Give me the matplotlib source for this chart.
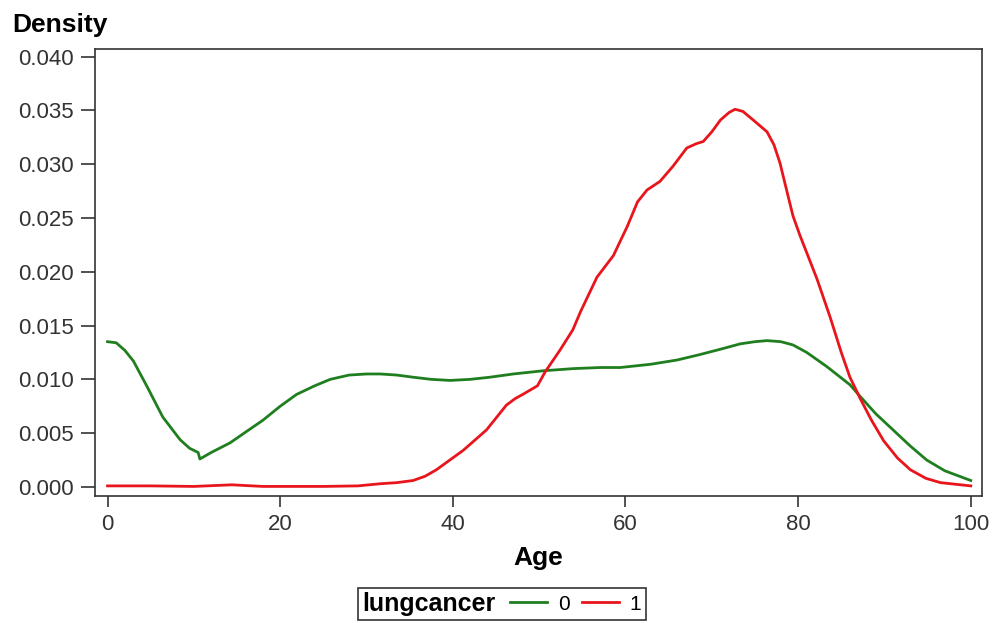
import matplotlib
matplotlib.use("Agg")
import matplotlib.pyplot as plt
from matplotlib.offsetbox import HPacker

plt.rcParams['font.family'] = ['Liberation Sans', 'DejaVu Sans']

# ---- data ----
age_0 = [0, 1, 2, 3, 4.6, 6.4, 8.4, 9.5, 10.5, 10.7, 12, 14.2, 16, 18, 20, 21.9, 24,
         25.8, 28, 30, 31.6, 33.5, 35.4, 37.5, 39.7, 42, 44.3, 47, 50.5, 54, 57.1,
         59.4, 62.9, 66, 68.6, 71, 73.3, 75, 76.4, 78, 79.4, 81, 83.3, 86, 87.2, 89,
         91, 93, 94.9, 97, 100]
dens_0 = [0.0135, 0.0134, 0.0127, 0.0117, 0.0093, 0.0065, 0.0044, 0.0036, 0.0032,
          0.0026, 0.0032, 0.0041, 0.0051, 0.0062, 0.0075, 0.0086, 0.0094, 0.0100,
          0.0104, 0.0105, 0.0105, 0.0104, 0.0102, 0.0100, 0.0099, 0.0100, 0.0102,
          0.0105, 0.0108, 0.0110, 0.0111, 0.0111, 0.0114, 0.0118, 0.0123, 0.0128,
          0.0133, 0.0135, 0.0136, 0.0135, 0.0132, 0.0125, 0.0112, 0.0095, 0.0084,
          0.0068, 0.0053, 0.0038, 0.0025, 0.0015, 0.0006]

age_1 = [0, 5, 10, 14.4, 18, 25, 29, 31.6, 33.5, 35.4, 36.8, 38.1, 41.2, 43.9, 46.2,
         47.2, 48.1, 49.8, 50.7, 52.4, 53.9, 54.8, 56.7, 58.6, 60.2, 61.4, 62.5, 64.0,
         65.5, 67.1, 68.2, 69.0, 70.0, 71.0, 72.0, 72.7, 73.6, 74.8, 76.4, 77.2, 77.9,
         78.6, 79.4, 80.2, 82.2, 83.7, 85.0, 86.0, 87.2, 88.5, 89.9, 91.5, 93.0, 94.8,
         96.5, 100]
dens_1 = [0.0001, 0.0001, 0.00005, 0.0002, 0.00005, 0.00005, 0.0001, 0.0003, 0.0004,
          0.0006, 0.0010, 0.0016, 0.0034, 0.0053, 0.0076, 0.0082, 0.0086, 0.0094,
          0.0107, 0.0127, 0.0146, 0.0163, 0.0195, 0.0215, 0.0242, 0.0265, 0.0276,
          0.0284, 0.0298, 0.0315, 0.0319, 0.0321, 0.0330, 0.0341, 0.0348, 0.0351,
          0.0349, 0.0341, 0.0330, 0.0318, 0.0301, 0.0278, 0.0252, 0.0234, 0.0193,
          0.0158, 0.0125, 0.0102, 0.0082, 0.0062, 0.0043, 0.0027, 0.0016, 0.0008,
          0.0004, 0.0001]

x_ticks = [0, 20, 40, 60, 80, 100]
y_ticks = [0.000, 0.005, 0.010, 0.015, 0.020, 0.025, 0.030, 0.035, 0.040]
y_tick_labels = [f"{v:.3f}" for v in y_ticks]
group_labels = ['0', '1']
legend_title = 'lungcancer'

GREEN = '#1f7f1f'
RED = '#e8161c'

fig = plt.figure(figsize=(9.93, 6.23), dpi=100)
ax = fig.add_axes([95/993, 1-496/623, (982-95)/993, (496-49)/623])

l0, = ax.plot(age_0, dens_0, color=GREEN, lw=2.0, solid_joinstyle='round')
l1, = ax.plot(age_1, dens_1, color=RED, lw=2.0, solid_joinstyle='round')

ax.set_xlim(-1.45, 101.3)
ax.set_ylim(-0.00084, 0.0407)
ax.set_xticks(x_ticks)
ax.set_yticks(y_ticks)
ax.set_yticklabels(y_tick_labels)
ax.tick_params(axis='x', length=8, width=1.2, labelsize=16, pad=5, color='#333333')
ax.tick_params(axis='y', length=10, width=1.2, labelsize=16, pad=5, color='#333333')
for lab in ax.get_xticklabels() + ax.get_yticklabels():
    lab.set_color('#333333')
for s in ax.spines.values():
    s.set_linewidth(1.2)
    s.set_color('#333333')

ax.set_xlabel('Age', fontsize=19, fontweight='bold', labelpad=8)
fig.text(12/993, 1-32/623, 'Density', fontsize=19, fontweight='bold', va='baseline', ha='left')

leg = fig.legend([l0, l1], group_labels, ncol=2, loc='upper center',
                 bbox_to_anchor=(502/993, 1-588/623), borderaxespad=0,
                 frameon=True, fancybox=False,
                 edgecolor='black', fontsize=15, handlelength=1.8, handletextpad=0.5,
                 columnspacing=0.6, borderpad=0.2, title=legend_title,
                 title_fontproperties={'weight': 'bold', 'size': 18})
leg.get_frame().set_linewidth(1.2)
# put the title to the left of the entries
box = HPacker(pad=3, sep=10, align='center',
              children=[leg._legend_title_box, leg._legend_handle_box])
box.set_figure(fig)
box.set_offset(leg._findoffset)
leg._legend_box = box

fig.savefig('out.png', dpi=100)
